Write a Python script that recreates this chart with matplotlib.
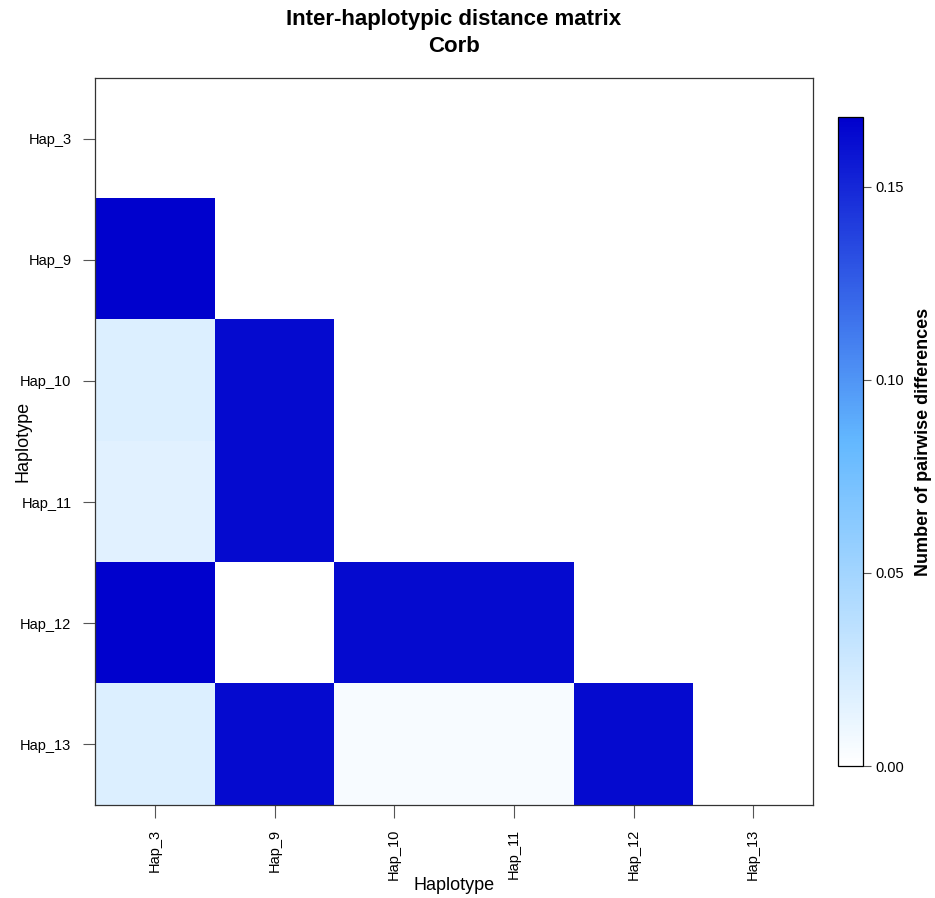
import numpy as np
import matplotlib
matplotlib.use("Agg")
import matplotlib.pyplot as plt
from matplotlib.colors import LinearSegmentedColormap

plt.rcParams['font.family'] = ['Liberation Sans', 'DejaVu Sans']

# Haplotypes (rows top -> bottom, columns left -> right)
haplotypes = ["Hap_3", "Hap_9", "Hap_10", "Hap_11", "Hap_12", "Hap_13"]

# lower triangle of pairwise differences, nan = not drawn
row_hap3 = [np.nan, np.nan, np.nan, np.nan, np.nan, np.nan]
row_hap9 = [0.1667, np.nan, np.nan, np.nan, np.nan, np.nan]
row_hap10 = [0.0185, 0.163, np.nan, np.nan, np.nan, np.nan]
row_hap11 = [0.0160, 0.163, np.nan, np.nan, np.nan, np.nan]
row_hap12 = [0.1667, 0.0, 0.163, 0.163, np.nan, np.nan]
row_hap13 = [0.0185, 0.163, 0.004, 0.004, 0.163, np.nan]

matrice = np.array([row_hap3, row_hap9, row_hap10, row_hap11, row_hap12, row_hap13])

cmap = LinearSegmentedColormap.from_list("bleus", ["#FFFFFF", "#63B8FF", "#0000CD"])
cmap.set_bad("white")

fig = plt.figure(figsize=(9.35, 8.98), dpi=100)
W, H = 935, 898
ax = fig.add_axes([95 / W, 1 - 805 / H, (813 - 95) / W, (805 - 78) / H])
cax = fig.add_axes([838 / W, 1 - 766 / H, (863 - 838) / W, (766 - 117) / H])

n = len(haplotypes)
im = ax.imshow(np.ma.masked_invalid(matrice), cmap=cmap, vmin=0, vmax=0.168,
               aspect="auto", interpolation="nearest",
               extent=(-0.5, n - 0.5, n - 0.5, -0.5))

ax.set_xticks(range(n))
ax.set_xticklabels(haplotypes, rotation=90, fontsize=10.5)
ax.set_yticks(range(n))
ax.set_yticklabels(haplotypes, fontsize=10.5)
ax.tick_params(axis="both", length=9, width=0.8, color="#555555", pad=8)
for s in ax.spines.values():
    s.set_linewidth(0.9)
    s.set_color("#333333")

ax.set_xlabel("Haplotype", fontsize=13, labelpad=-2)
ax.set_ylabel("Haplotype", fontsize=13, labelpad=-8)
# titre centré sur la zone du graphique
fig.text(454 / W, 1 - 20 / H, "Inter-haplotypic distance matrix", ha="center", va="center",
         fontsize=16, fontweight="bold")
fig.text(454 / W, 1 - 47 / H, "Corb", ha="center", va="center",
         fontsize=16, fontweight="bold")

cb = fig.colorbar(im, cax=cax)
cb.set_ticks([0.0, 0.05, 0.10, 0.15])
cb.set_ticklabels(["0.00", "0.05", "0.10", "0.15"])
cb.ax.tick_params(length=6, width=0.8, color="#555555", labelsize=10.5, pad=3)
cb.outline.set_linewidth(0.9)
cb.set_label("Number of pairwise differences", fontsize=13, fontweight="bold",
             labelpad=8)

fig.savefig("out.png", dpi=100)
